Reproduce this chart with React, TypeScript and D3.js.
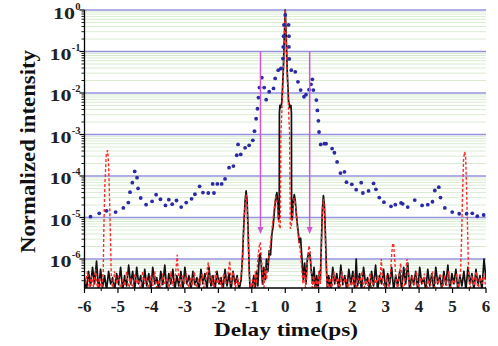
import React from 'react';
import * as d3 from 'd3';

// x: delay time (ps); y: log10 of normalized intensity
const xTicks = [-6, -5, -4, -3, -2, -1, 0, 1, 2, 3, 4, 5, 6];
const xMinorTicks = [-5.5, -4.5, -3.5, -2.5, -1.5, -0.5, 0.5, 1.5, 2.5, 3.5, 4.5, 5.5];
const yDecades = [0, -1, -2, -3, -4, -5, -6];

const blackLine: [number, number][] = [
  [-6.0, -6.45], [-5.94, -6.75], [-5.88, -6.3], [-5.82, -6.65], [-5.76, -6.2], [-5.7, -6.6], [-5.64, -6.05], [-5.58, -6.75],
  [-5.52, -6.25], [-5.46, -6.68], [-5.4, -6.4], [-5.34, -6.75], [-5.28, -6.3], [-5.22, -6.6], [-5.16, -6.45], [-5.1, -6.75],
  [-5.04, -6.35], [-4.98, -6.62], [-4.92, -6.2], [-4.86, -6.75], [-4.8, -6.4], [-4.74, -6.65], [-4.68, -6.15], [-4.62, -6.6],
  [-4.56, -6.3], [-4.5, -6.75], [-4.44, -6.2], [-4.38, -6.6], [-4.32, -6.4], [-4.26, -6.75], [-4.2, -6.25], [-4.14, -6.65],
  [-4.08, -6.35], [-4.02, -6.75], [-3.96, -6.2], [-3.9, -6.6], [-3.84, -6.45], [-3.78, -6.75], [-3.72, -6.3], [-3.66, -6.62],
  [-3.6, -6.15], [-3.54, -6.75], [-3.48, -6.35], [-3.42, -6.6], [-3.36, -6.25], [-3.3, -6.75], [-3.24, -6.4], [-3.18, -6.65],
  [-3.12, -6.3], [-3.06, -6.75], [-3.0, -6.2], [-2.94, -6.6], [-2.88, -6.4], [-2.82, -6.75], [-2.76, -6.3], [-2.7, -6.62],
  [-2.64, -6.45], [-2.58, -6.75], [-2.52, -6.25], [-2.46, -6.6], [-2.4, -6.35], [-2.34, -6.75], [-2.28, -6.2], [-2.22, -6.65],
  [-2.16, -6.4], [-2.1, -6.75], [-2.04, -6.3], [-1.98, -6.6], [-1.92, -6.45], [-1.86, -6.75], [-1.8, -6.25], [-1.74, -6.65],
  [-1.68, -6.35], [-1.62, -6.75], [-1.56, -6.3], [-1.5, -6.6], [-1.44, -6.4], [-1.38, -6.75],
  [-1.32, -6.5], [-1.28, -6.0], [-1.24, -5.2], [-1.2, -4.6], [-1.17, -4.36], [-1.14, -4.6], [-1.11, -5.3], [-1.08, -6.2],
  [-1.05, -6.75], [-1.0, -6.75], [-0.98, -6.6], [-0.94, -6.4], [-0.9, -6.75], [-0.86, -6.3], [-0.82, -6.65], [-0.78, -6.0],
  [-0.75, -5.87], [-0.72, -6.1], [-0.68, -6.6], [-0.64, -6.2], [-0.6, -6.5], [-0.56, -6.0], [-0.52, -6.3], [-0.48, -5.8],
  [-0.44, -5.9], [-0.4, -5.4], [-0.36, -5.2], [-0.32, -4.8], [-0.28, -4.5], [-0.25, -4.4], [-0.22, -4.7], [-0.2, -5.05],
  [-0.18, -5.0], [-0.175, -2.5], [-0.16, -2.3], [-0.13, -2.35], [-0.1, -2.2], [-0.06, -1.5], [-0.03, -0.7], [0.0, 0.0],
  [0.03, -0.7], [0.06, -1.5], [0.1, -2.2], [0.14, -2.35], [0.17, -2.3], [0.185, -2.5], [0.19, -5.0], [0.21, -5.05],
  [0.24, -4.6], [0.27, -4.45], [0.3, -4.6], [0.34, -5.0], [0.38, -5.3], [0.42, -5.6], [0.46, -5.5], [0.5, -6.0],
  [0.54, -6.5], [0.58, -6.1], [0.62, -6.6], [0.66, -6.0], [0.7, -5.85], [0.74, -5.9], [0.78, -6.3], [0.82, -6.6],
  [0.86, -6.2], [0.9, -6.75], [0.94, -6.4], [0.98, -6.75], [1.02, -6.3], [1.05, -6.5], [1.08, -5.6], [1.11, -4.8],
  [1.14, -4.47], [1.17, -4.7], [1.2, -5.4], [1.23, -6.2], [1.26, -6.75],
  [1.3, -6.4], [1.36, -6.75], [1.42, -6.2], [1.48, -6.6], [1.54, -6.35], [1.6, -6.75], [1.66, -6.15], [1.72, -6.62],
  [1.78, -6.4], [1.84, -6.75], [1.9, -6.25], [1.96, -6.6], [2.02, -6.3], [2.08, -6.75], [2.12, -6.0], [2.16, -6.65],
  [2.22, -6.35], [2.28, -6.75], [2.34, -6.2], [2.4, -6.6], [2.46, -6.45], [2.52, -6.75], [2.58, -6.3], [2.64, -6.65],
  [2.7, -6.15], [2.76, -6.75], [2.82, -6.4], [2.88, -6.6], [2.94, -6.25], [3.0, -6.75], [3.06, -6.35], [3.12, -6.62],
  [3.18, -6.2], [3.24, -6.75], [3.3, -6.4], [3.36, -6.65], [3.42, -6.3], [3.48, -6.75], [3.54, -6.2], [3.6, -6.6],
  [3.66, -6.1], [3.72, -6.75], [3.78, -6.4], [3.84, -6.62], [3.9, -6.3], [3.96, -6.75], [4.02, -6.2], [4.08, -6.6],
  [4.14, -6.45], [4.2, -6.75], [4.26, -6.25], [4.32, -6.65], [4.38, -6.35], [4.44, -6.75], [4.5, -6.2], [4.56, -6.6],
  [4.62, -6.4], [4.68, -6.75], [4.74, -6.3], [4.8, -6.62], [4.86, -6.15], [4.92, -6.75], [4.98, -6.35], [5.04, -6.6],
  [5.1, -6.25], [5.16, -6.75], [5.22, -6.4], [5.28, -6.65], [5.34, -6.3], [5.4, -6.75], [5.46, -6.2], [5.52, -6.6],
  [5.58, -6.35], [5.64, -6.75], [5.7, -6.25], [5.76, -6.62], [5.82, -6.4], [5.88, -6.75], [5.94, -6.0], [6.0, -6.5],
];

const redLine: [number, number][] = [
  [-5.97, -6.6], [-5.91, -6.3], [-5.85, -6.75], [-5.79, -6.4], [-5.73, -6.68], [-5.67, -6.25], [-5.61, -6.75], [-5.55, -6.45],
  [-5.49, -6.75], [-5.44, -6.3], [-5.42, -5.2], [-5.39, -4.2], [-5.35, -3.5], [-5.31, -3.38], [-5.28, -3.7], [-5.25, -4.6],
  [-5.22, -5.6], [-5.2, -6.4], [-5.16, -6.75], [-5.1, -6.3], [-5.04, -6.6], [-4.98, -6.4], [-4.92, -6.75], [-4.86, -6.5],
  [-4.8, -6.65], [-4.74, -6.3], [-4.68, -6.75], [-4.62, -6.45], [-4.56, -6.75], [-4.5, -6.35], [-4.44, -6.6], [-4.38, -6.5],
  [-4.32, -6.75], [-4.26, -6.3], [-4.2, -6.6], [-4.14, -6.45], [-4.08, -6.75], [-4.02, -6.4], [-3.96, -6.65], [-3.9, -6.3],
  [-3.84, -6.75], [-3.78, -6.5], [-3.72, -6.75], [-3.66, -6.35], [-3.6, -6.6], [-3.54, -6.45], [-3.48, -6.75], [-3.42, -6.3],
  [-3.36, -6.65], [-3.3, -6.5], [-3.26, -6.2], [-3.23, -5.9], [-3.2, -6.3], [-3.14, -6.75], [-3.08, -6.4], [-3.02, -6.6],
  [-2.96, -6.35], [-2.9, -6.75], [-2.84, -6.45], [-2.78, -6.65], [-2.72, -6.3], [-2.66, -6.75], [-2.6, -6.5], [-2.54, -6.6],
  [-2.48, -6.35], [-2.42, -6.75], [-2.36, -6.4], [-2.3, -6.08], [-2.26, -6.6], [-2.2, -6.4], [-2.14, -6.75], [-2.08, -6.3],
  [-2.02, -6.6], [-1.96, -6.45], [-1.9, -6.75], [-1.84, -6.35], [-1.78, -6.6], [-1.72, -6.4], [-1.66, -6.05], [-1.62, -6.6],
  [-1.56, -6.3], [-1.5, -6.75], [-1.44, -6.45], [-1.38, -6.65],
  [-1.32, -6.4], [-1.28, -6.1], [-1.24, -5.3], [-1.2, -4.7], [-1.17, -4.45], [-1.14, -4.7], [-1.11, -5.4], [-1.08, -6.3],
  [-1.04, -6.75], [-0.98, -6.5], [-0.94, -6.75], [-0.9, -6.3], [-0.86, -6.6], [-0.82, -6.0], [-0.78, -5.7], [-0.75, -5.6],
  [-0.72, -5.9], [-0.68, -6.4], [-0.64, -6.75], [-0.6, -6.2], [-0.56, -6.5], [-0.52, -6.1], [-0.48, -5.9], [-0.44, -5.6],
  [-0.4, -5.3], [-0.36, -5.0], [-0.32, -4.7], [-0.28, -4.5], [-0.25, -4.55], [-0.22, -4.9], [-0.18, -5.2], [-0.15, -5.27],
  [-0.13, -3.0], [-0.1, -2.4], [-0.06, -1.6], [-0.03, -0.8], [0.0, 0.0], [0.03, -0.8], [0.06, -1.6], [0.1, -2.4],
  [0.13, -3.0], [0.15, -5.27], [0.18, -5.2], [0.22, -4.9], [0.26, -4.55], [0.29, -4.55], [0.33, -4.9], [0.37, -5.3],
  [0.41, -5.6], [0.45, -5.8], [0.49, -6.2], [0.53, -6.6], [0.57, -6.3], [0.61, -6.75], [0.65, -6.2], [0.68, -5.9],
  [0.71, -5.68], [0.74, -5.8], [0.77, -6.2], [0.81, -6.75], [0.85, -6.4], [0.89, -6.75], [0.93, -6.5], [0.97, -6.75],
  [1.01, -6.3], [1.05, -6.6], [1.08, -5.7], [1.11, -4.9], [1.14, -4.55], [1.17, -4.8], [1.2, -5.5], [1.23, -6.3],
  [1.27, -6.75], [1.33, -6.4], [1.39, -6.75], [1.45, -6.3], [1.51, -6.6], [1.57, -6.45], [1.63, -6.75], [1.69, -6.3],
  [1.75, -6.6], [1.81, -6.4], [1.87, -6.75], [1.93, -6.5], [1.99, -6.65], [2.05, -6.35], [2.11, -6.75], [2.17, -6.45],
  [2.23, -6.6], [2.29, -6.3], [2.35, -6.75], [2.41, -6.5], [2.47, -6.65], [2.53, -6.35], [2.59, -6.75], [2.65, -6.45],
  [2.71, -6.6], [2.77, -6.4], [2.83, -6.6], [2.87, -6.0], [2.91, -6.5], [2.97, -6.75], [3.03, -6.4], [3.09, -6.75],
  [3.15, -6.3], [3.18, -5.9], [3.21, -5.62], [3.24, -5.65], [3.27, -6.0], [3.31, -6.5], [3.37, -6.75], [3.42, -6.3],
  [3.45, -6.1], [3.49, -6.6], [3.55, -6.75], [3.6, -6.3], [3.64, -6.0], [3.68, -6.5], [3.74, -6.75], [3.8, -6.4],
  [3.86, -6.65], [3.92, -6.3], [3.98, -6.75], [4.04, -6.45], [4.1, -6.6], [4.16, -6.35], [4.22, -6.75], [4.28, -6.5],
  [4.34, -6.65], [4.4, -6.3], [4.46, -6.75], [4.52, -6.45], [4.58, -6.6], [4.64, -6.35], [4.7, -6.75], [4.76, -6.4],
  [4.82, -6.65], [4.88, -6.3], [4.94, -6.75], [5.0, -6.5], [5.06, -6.6], [5.12, -6.35], [5.18, -6.75], [5.24, -6.3],
  [5.27, -5.5], [5.3, -4.4], [5.33, -3.6], [5.36, -3.42], [5.39, -3.5], [5.42, -4.3], [5.45, -5.3], [5.48, -6.3],
  [5.52, -6.75], [5.58, -6.4], [5.64, -6.65], [5.7, -6.3], [5.76, -6.75], [5.82, -6.45], [5.88, -6.6], [5.94, -6.35],
  [6.0, -6.75],
];

const blueDots: [number, number][] = [
  [-5.82, -4.98], [-5.56, -4.9], [-5.34, -4.84], [-5.07, -4.87], [-4.84, -4.77], [-4.69, -4.64], [-4.64, -4.39], [-4.57, -4.16],
  [-4.5, -3.89], [-4.43, -4.04], [-4.4, -4.3], [-4.32, -4.53], [-4.16, -4.69], [-3.98, -4.61], [-3.86, -4.45], [-3.73, -4.56],
  [-3.58, -4.71], [-3.48, -4.57], [-3.38, -4.68], [-3.25, -4.59], [-3.11, -4.75], [-2.96, -4.64], [-2.8, -4.55], [-2.7, -4.44],
  [-2.56, -4.25], [-2.46, -4.4], [-2.3, -4.41], [-2.13, -4.41], [-2.17, -4.19], [-2.03, -4.19], [-1.9, -4.19], [-1.8, -4.07],
  [-1.68, -3.8], [-1.55, -3.76], [-1.45, -3.5], [-1.41, -3.24], [-1.33, -3.48], [-1.2, -3.32], [-1.08, -3.26], [-0.97, -3.14],
  [-0.92, -2.92], [-0.87, -2.62], [-0.83, -2.38], [-0.8, -2.11], [-0.77, -1.87], [-0.7, -1.63], [-0.63, -1.87], [-0.57, -2.16],
  [-0.48, -1.97], [-0.35, -1.89], [-0.3, -1.65], [-0.21, -1.45], [-0.13, -1.41], [-0.07, -1.17], [-0.06, -0.89], [-0.05, -0.63],
  [-0.04, -0.36], [0.0, -0.12], [0.1, -0.36], [0.11, -0.63], [0.11, -0.89], [0.12, -1.18], [0.18, -1.45], [0.3, -1.49],
  [0.38, -1.73], [0.46, -1.93], [0.56, -2.09], [0.62, -2.04], [0.71, -1.92], [0.77, -1.79], [0.81, -1.67], [0.84, -1.93],
  [0.93, -2.17], [0.96, -2.42], [0.99, -2.67], [1.01, -2.94], [1.06, -3.24], [1.17, -3.22], [1.22, -3.22], [1.4, -3.34],
  [1.47, -3.44], [1.55, -3.66], [1.65, -3.93], [1.77, -3.9], [1.83, -4.15], [1.99, -4.2], [2.12, -4.33], [2.27, -4.16],
  [2.32, -4.41], [2.49, -4.36], [2.64, -4.18], [2.71, -4.32], [2.81, -4.52], [2.95, -4.63], [3.16, -4.73], [3.29, -4.69],
  [3.46, -4.65], [3.51, -4.67], [3.66, -4.75], [3.87, -4.58], [4.09, -4.71], [4.26, -4.69], [4.4, -4.62], [4.47, -4.35],
  [4.59, -4.27], [4.64, -4.52], [4.77, -4.77], [4.99, -4.87], [5.2, -4.91], [5.42, -4.91], [5.59, -4.9], [5.74, -4.97],
  [5.93, -4.94],
];

const arrowTimes = [-0.74, 0.73];
const arrowTop = -1;
const arrowTip = -5.4;

const FONT = '"Liberation Serif", "Times New Roman", serif';

export default function App() {
  const W = 498, H = 346;
  const x = d3.scaleLinear().domain([-6, 6]).range([84.5, 486]);
  const y = d3.scaleLog().domain([2e-7, 1]).range([288, 10]);
  const ly = (l: number) => y(Math.pow(10, l));
  const line = d3.line<[number, number]>().x(d => x(d[0])).y(d => ly(d[1]));

  const minor: number[] = [];
  for (let e = -7; e < 0; e++) for (let m = 2; m <= 9; m++) {
    const v = m * Math.pow(10, e);
    if (v > 2.05e-7 && v < 1) minor.push(v);
  }
  const [x0, x1] = x.range();
  const [yb, yt] = y.range();

  return (
    <svg width={W} height={H} style={{ position: 'absolute', left: 0, top: 0, background: '#fff' }} fontFamily={FONT}>
      <defs>
        <clipPath id="plot"><rect x={x0} y={yt - 2} width={x1 - x0} height={yb - yt + 2} /></clipPath>
      </defs>
      {/* grid */}
      {minor.map((v, i) => (
        <line key={'mg' + i} x1={x0} x2={x1} y1={y(v)} y2={y(v)} stroke="#d9ecd2" strokeWidth={1} />
      ))}
      {yDecades.map(e => (
        <line key={'Mg' + e} x1={x0} x2={x1} y1={y(Math.pow(10, e))} y2={y(Math.pow(10, e))} stroke="#9494dc" strokeWidth={1.6} />
      ))}
      <g clipPath="url(#plot)">
        <path d={line(blackLine) || ''} fill="none" stroke="#111" strokeWidth={1.7} strokeLinejoin="round" />
        <path d={line(redLine) || ''} fill="none" stroke="#ff2a2a" strokeWidth={1.4} strokeDasharray="3,2" />
      </g>
      {blueDots.map((d, i) => (
        <circle key={'b' + i} cx={x(d[0])} cy={ly(d[1])} r={1.9} fill="#2a2aa6" />
      ))}
      {arrowTimes.map((t, i) => {
        const ax = x(t), yT = ly(arrowTop), yTip = ly(arrowTip);
        return (
          <g key={'a' + i}>
            <line x1={ax} x2={ax} y1={yT} y2={yTip - 6} stroke="#d055d0" strokeWidth={1.5} />
            <path d={`M${ax - 3},${yTip - 7}L${ax + 3},${yTip - 7}L${ax},${yTip}Z`} fill="#d055d0" />
          </g>
        );
      })}
      {/* axes */}
      <line x1={x0} x2={x0} y1={yt} y2={yb} stroke="#000" strokeWidth={1.3} />
      <line x1={x0} x2={x1} y1={yb} y2={yb} stroke="#000" strokeWidth={1.3} />
      {yDecades.map(e => (
        <line key={'yt' + e} x1={x0 - 5} x2={x0} y1={y(Math.pow(10, e))} y2={y(Math.pow(10, e))} stroke="#000" strokeWidth={1.2} />
      ))}
      {minor.map((v, i) => (
        <line key={'ymt' + i} x1={x0 - 3} x2={x0} y1={y(v)} y2={y(v)} stroke="#000" strokeWidth={0.9} />
      ))}
      {xTicks.map(t => (
        <line key={'xt' + t} x1={x(t)} x2={x(t)} y1={yb} y2={yb + 5} stroke="#000" strokeWidth={1.2} />
      ))}
      {xMinorTicks.map(t => (
        <line key={'xmt' + t} x1={x(t)} x2={x(t)} y1={yb} y2={yb + 3} stroke="#000" strokeWidth={1} />
      ))}
      {xTicks.map(t => (
        <text key={'xl' + t} x={x(t)} y={312} textAnchor="middle" fontSize={17} fontWeight="bold" fill="#222">
          {t < 0 ? '-' + Math.abs(t) : String(t)}
        </text>
      ))}
      {yDecades.map(e => {
        const yy = y(Math.pow(10, e));
        const supW = e === 0 ? 5 : 8.5;
        return (
          <g key={'yl' + e}>
            <text x={80 - supW} y={yy + 8.5} textAnchor="end" fontSize={17} fontWeight="bold" fill="#222" textLength={22} lengthAdjust="spacingAndGlyphs">10</text>
            <text x={80.5} y={yy - 0.5} textAnchor="end" fontSize={10.5} fontWeight="bold" fill="#222">{String(e)}</text>
          </g>
        );
      })}
      <text x={286} y={336} textAnchor="middle" fontSize={19} fontWeight="bold" fill="#111" textLength={144} lengthAdjust="spacingAndGlyphs">Delay time(ps)</text>
      <text transform="translate(35,151.5) rotate(-90)" textAnchor="middle" fontSize={21} fontWeight="bold" fill="#111" textLength={203} lengthAdjust="spacingAndGlyphs">Normalized intensity</text>
    </svg>
  );
}
